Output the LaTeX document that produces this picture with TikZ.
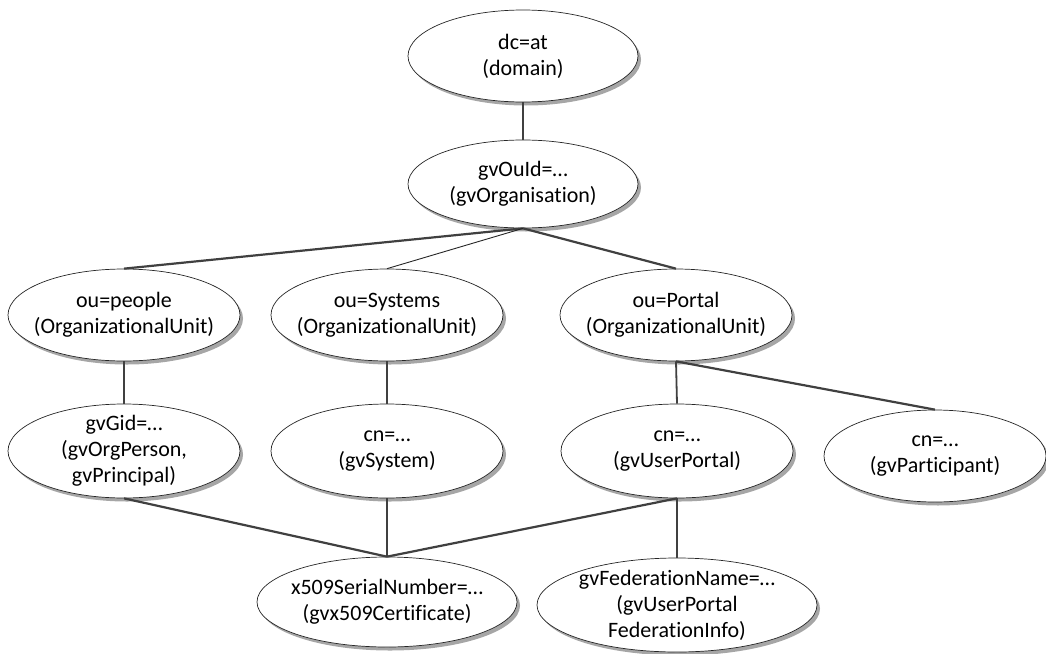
\documentclass[tikz,border=0pt]{standalone}
\usepackage{fontspec}
\setmainfont{Carlito}[Ligatures={NoCommon,NoRare,NoContextual},Contextuals=NoAlternate]
\usetikzlibrary{shapes.geometric,shadows}
\begin{document}
\begin{tikzpicture}[x=1pt,y=-1pt,
  obj/.style={ellipse, draw=black!85, line width=0.7pt, fill=white, inner sep=0pt,
    drop shadow={shadow xshift=3pt, shadow yshift=-3.5pt, fill=black, opacity=0.35}},
  txt/.style={align=center, font=\fontsize{22}{26}\selectfont},
  thick link/.style={draw=black!75, line width=2.2pt},
  thin link/.style={draw=black!85, line width=0.9pt},
  vlink/.style={draw=black!75, line width=1.8pt}]
\useasboundingbox (0,0) rectangle (1046,653);
\node[obj, minimum width=230pt, minimum height=92pt, label={[txt]center:dc=at\\(domain)}] (dc) at (523,56) {};
\node[obj, minimum width=230pt, minimum height=88pt, label={[txt]center:gvOuId=…\\(gvOrganisation)}] (org) at (523,184) {};
\node[obj, minimum width=232pt, minimum height=92pt, label={[txt]center:ou=people\\(OrganizationalUnit)}] (people) at (124,315) {};
\node[obj, minimum width=232pt, minimum height=92pt, label={[txt]center:ou=Systems\\(OrganizationalUnit)}] (systems) at (387,315) {};
\node[obj, minimum width=232pt, minimum height=92pt, label={[txt]center:ou=Portal\\(OrganizationalUnit)}] (portal) at (676,315) {};
\node[obj, minimum width=232pt, minimum height=94pt, label={[txt]center:gvGid=…\\(gvOrgPerson,\\gvPrincipal)}] (gid) at (124,451) {};
\node[obj, minimum width=232pt, minimum height=94pt, label={[txt]center:cn=…\\(gvSystem)}] (sys) at (387,451) {};
\node[obj, minimum width=232pt, minimum height=94pt, label={[txt]center:cn=…\\(gvUserPortal)}] (up) at (677,451) {};
\node[obj, minimum width=222pt, minimum height=92pt, label={[txt]center:cn=…\\(gvParticipant)}] (part) at (935,456) {};
\node[obj, minimum width=260pt, minimum height=90pt, label={[txt]center:x509SerialNumber=…\\(gvx509Certificate)}] (cert) at (387,602) {};
\node[obj, minimum width=280pt, minimum height=94pt, label={[txt]center:gvFederationName=…\\(gvUserPortal\\FederationInfo)}] (fed) at (677,605) {};
\draw[vlink] (dc.south) -- (org.north);
\draw[thick link] (org.south) -- (people.north);
\draw[thin link] (org.south) -- (systems.north);
\draw[thick link] (org.south) -- (portal.north);
\draw[vlink] (people.south) -- (gid.north);
\draw[vlink] (systems.south) -- (sys.north);
\draw[vlink] (portal.south) -- (up.north);
\draw[thick link] (portal.south) -- (part.north);
\draw[thick link] (gid.south) -- (cert.north);
\draw[vlink] (sys.south) -- (cert.north);
\draw[thick link] (up.south) -- (cert.north);
\draw[vlink] (up.south) -- (fed.north);
\end{tikzpicture}
\end{document}
